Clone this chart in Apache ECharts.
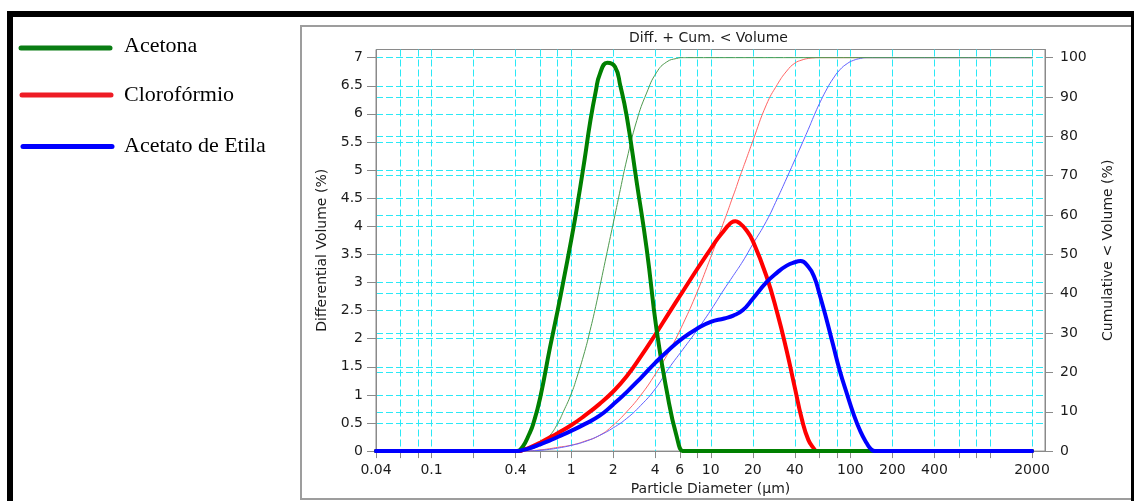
<!DOCTYPE html>
<html>
<head>
<meta charset="utf-8">
<script src="https://cdn.jsdelivr.net/npm/echarts@6/dist/echarts.min.js"></script>
<style>
  html, body { margin: 0; padding: 0; background: #ffffff; }
  #chart { width: 1134px; height: 501px; }
</style>
</head>
<body>
<div id="chart"></div>
<script>
// Particle size distribution by laser diffraction: differential volume (%) and
// cumulative volume (%) against particle diameter (µm) for three solvents.

const seriesNames = ['Acetona', 'Clorofórmio', 'Acetato de Etila'];

// Acetona
const acetonaDiam = [0.04, 0.375, 0.41, 0.45, 0.5, 0.536, 0.6, 0.705, 0.8, 0.879, 1.0, 1.096, 1.25, 1.365, 1.5, 1.61, 1.815, 2.06, 2.25, 2.5, 2.95, 3.47, 4.1, 4.83, 5.7, 6.36, 6.8, 2000];
const acetonaDiff = [0, 0, 0, 0.08, 0.3, 0.49, 0.95, 1.84, 2.5, 3.02, 3.75, 4.31, 5.2, 5.84, 6.4, 6.72, 6.91, 6.84, 6.5, 5.96, 4.78, 3.61, 2.14, 1.08, 0.26, 0, 0, 0];
const acetonaCum  = [0, 0, 0, 0.1, 0.4, 0.7, 1.6, 4, 7, 10, 14.5, 18.6, 25.3, 30.6, 36.8, 42, 50.8, 60, 66.5, 74, 84, 91, 96.3, 98.9, 99.8, 100, 100, 100];

// Clorofórmio
const cloroDiam = [0.04, 0.4, 0.43, 0.45, 0.5, 0.6, 0.7, 0.8, 1.0, 1.25, 1.6, 2.0, 2.5, 3.15, 4.0, 5.0, 6.3, 8.0, 10, 11.2, 12.5, 13.3, 14.1, 15, 16, 18, 20, 25, 30, 35, 40, 45, 50, 55, 57.5, 62, 2000];
const cloroDiff = [0, 0, 0, 0.02, 0.06, 0.15, 0.24, 0.32, 0.46, 0.63, 0.84, 1.06, 1.33, 1.68, 2.07, 2.45, 2.84, 3.24, 3.6, 3.78, 3.93, 4.01, 4.07, 4.09, 4.06, 3.93, 3.74, 3.12, 2.45, 1.78, 1.13, 0.56, 0.2, 0.04, 0, 0, 0];
const cloroCum  = [0, 0, 0, 0, 0.06, 0.3, 0.6, 0.95, 1.5, 2.5, 4.0, 6.6, 10, 14.2, 19.5, 25.2, 32.2, 40.5, 49.3, 54, 58.6, 61.2, 63.8, 66.4, 69.3, 74.3, 78.8, 88, 93.2, 96.6, 98.6, 99.4, 99.8, 99.95, 100, 100, 100];

// Acetato de Etila
const etilaDiam = [0.04, 0.38, 0.41, 0.45, 0.5, 0.6, 0.7, 0.8, 1.0, 1.25, 1.6, 2.0, 2.5, 3.15, 4.0, 5.0, 6.3, 8.0, 10, 12.5, 14.5, 17, 20, 25, 30, 35, 40, 44, 50, 55, 60, 68, 75, 84, 95, 105, 118, 131, 140, 150, 160, 2000];
const etilaDiff = [0, 0, 0, 0.02, 0.05, 0.12, 0.185, 0.25, 0.36, 0.48, 0.63, 0.83, 1.05, 1.3, 1.57, 1.8, 2.01, 2.18, 2.3, 2.36, 2.41, 2.51, 2.71, 3.0, 3.18, 3.3, 3.36, 3.38, 3.28, 3.1, 2.8, 2.31, 1.9, 1.43, 1.0, 0.67, 0.35, 0.14, 0.04, 0, 0, 0];
const etilaCum  = [0, 0, 0, 0, 0.05, 0.2, 0.45, 0.75, 1.45, 2.4, 4.0, 5.9, 8.3, 11.6, 15.8, 21, 25.8, 30.8, 35.8, 41.2, 44.6, 48.3, 52.6, 58.4, 64.2, 69.4, 74, 77.3, 81.8, 85.3, 88.3, 92.1, 94.6, 96.9, 98.5, 99.3, 99.8, 100, 100, 100, 100, 100];

// Axis ticks
const xTickDiam  = [0.04, 0.06, 0.08, 0.1, 0.2, 0.4, 0.6, 0.8, 1, 2, 4, 6, 8, 10, 20, 40, 60, 80, 100, 200, 400, 600, 800, 1000, 2000];
const xLabelDiam = [0.04, 0.1, 0.4, 1, 2, 4, 6, 10, 20, 40, 100, 200, 400, 2000];
const diffTicks  = [0, 0.5, 1, 1.5, 2, 2.5, 3, 3.5, 4, 4.5, 5, 5.5, 6, 6.5, 7];
const cumTicks   = [0, 10, 20, 30, 40, 50, 60, 70, 80, 90, 100];

// Axis extents (the frame reaches a little past the last ticks)
const diamRange = [0.04, 2478];
const diffTop = 7.145;
const cumTop = diffTop * 100 / 7;

const lg = Math.log10;
const pairs = (d, v) => d.map((x, i) => [lg(x), v[i]]);
const fmtDiam = v => String(parseFloat(Math.pow(10, v).toPrecision(3)));

const FONT = 'DejaVu Sans';
const GRID_LINE = { color: '#2be9f6', type: [7, 3], width: 1 };
const AXIS_GRAY = '#8a8a8a';
const labelStyle = { color: '#1c1c1c', fontSize: 14, fontFamily: FONT };
const nameStyle = { color: '#1c1c1c', fontSize: 14, fontFamily: FONT };

const colors = ['#008000', '#ff0000', '#0000ff'];
const cumColors = ['#4f9a4f', '#ff6464', '#6060ff'];

function curve(name, d, v, color, width, yIdx) {
  return {
    type: 'line',
    name: name,
    data: pairs(d, v),
    xAxisIndex: 0,
    yAxisIndex: yIdx,
    symbol: 'none',
    showSymbol: false,
    smooth: 0.5,
    silent: true,
    lineStyle: { color: color, width: width, cap: 'round', join: 'round' },
    itemStyle: { color: color }
  };
}

const chart = echarts.init(document.getElementById('chart'), null, { renderer: 'canvas' });

chart.setOption({
  animation: false,
  backgroundColor: '#ffffff',
  grid: {
    left: 376, top: 49.5, right: 89, bottom: 46,
    show: true, borderColor: AXIS_GRAY, borderWidth: 1, backgroundColor: 'transparent'
  },
  xAxis: {
    type: 'value',
    min: lg(diamRange[0]),
    max: lg(diamRange[1]),
    axisLine: { show: true, onZero: false, lineStyle: { color: AXIS_GRAY } },
    axisTick: { show: true, customValues: xTickDiam.map(lg), length: 7, lineStyle: { color: AXIS_GRAY } },
    axisLabel: Object.assign({ customValues: xLabelDiam.map(lg), formatter: fmtDiam, margin: 12 }, labelStyle),
    splitLine: { show: true, lineStyle: GRID_LINE },
    name: 'Particle Diameter (µm)',
    nameLocation: 'middle',
    nameGap: 29,
    nameTextStyle: nameStyle
  },
  yAxis: [
    {
      type: 'value',
      position: 'left',
      min: 0,
      max: diffTop,
      axisLine: { show: true, onZero: false, lineStyle: { color: AXIS_GRAY } },
      axisTick: { show: true, customValues: diffTicks, length: 9, lineStyle: { color: AXIS_GRAY } },
      axisLabel: Object.assign({ customValues: diffTicks, margin: 13 }, labelStyle),
      splitLine: { show: true, lineStyle: GRID_LINE },
      name: 'Differential Volume (%)',
      nameLocation: 'middle',
      nameRotate: 90,
      nameGap: 46,
      nameTextStyle: nameStyle
    },
    {
      type: 'value',
      position: 'right',
      min: 0,
      max: cumTop,
      axisLine: { show: true, onZero: false, lineStyle: { color: AXIS_GRAY } },
      axisTick: { show: true, customValues: cumTicks, length: 8, lineStyle: { color: AXIS_GRAY } },
      axisLabel: Object.assign({ customValues: cumTicks, margin: 15 }, labelStyle),
      splitLine: { show: true, lineStyle: GRID_LINE },
      name: 'Cumulative < Volume (%)',
      nameLocation: 'middle',
      nameRotate: 90,
      nameGap: 56,
      nameTextStyle: nameStyle
    }
  ],
  series: [
    curve(seriesNames[1] + ' (cum.)', cloroDiam, cloroCum, cumColors[1], 1, 1),
    curve(seriesNames[2] + ' (cum.)', etilaDiam, etilaCum, cumColors[2], 1, 1),
    curve(seriesNames[0] + ' (cum.)', acetonaDiam, acetonaCum, cumColors[0], 1, 1),
    curve(seriesNames[1], cloroDiam, cloroDiff, colors[1], 4, 0),
    curve(seriesNames[0], acetonaDiam, acetonaDiff, colors[0], 4, 0),
    curve(seriesNames[2], etilaDiam, etilaDiff, colors[2], 4, 0)
  ],
  graphic: [
    // outer panel
    { type: 'rect', z: -10, silent: true, shape: { x: 301, y: 26, width: 845, height: 473 },
      style: { fill: 'none', stroke: '#9d9d9d', lineWidth: 2 } },
    // black page frame
    { type: 'rect', silent: true, shape: { x: 7, y: 11, width: 1127, height: 6 }, style: { fill: '#000000' } },
    { type: 'rect', silent: true, shape: { x: 7, y: 11, width: 6, height: 490 }, style: { fill: '#000000' } },
    { type: 'rect', silent: true, shape: { x: 1131, y: 11, width: 3, height: 490 }, style: { fill: '#000000' } },
    // chart title
    { type: 'text', silent: true, x: 708.5, y: 38,
      style: { text: 'Diff. + Cum. < Volume', font: '14px "DejaVu Sans"', fill: '#1c1c1c',
               align: 'center', verticalAlign: 'middle', textAlign: 'center', textVerticalAlign: 'middle' } },
    // legend
    { type: 'line', silent: true, shape: { x1: 21, y1: 48, x2: 110, y2: 48 },
      style: { stroke: '#0a7d14', lineWidth: 5, lineCap: 'round' } },
    { type: 'line', silent: true, shape: { x1: 22, y1: 95, x2: 111, y2: 95 },
      style: { stroke: '#ee1c25', lineWidth: 5, lineCap: 'round' } },
    { type: 'line', silent: true, shape: { x1: 23, y1: 146.5, x2: 112, y2: 146.5 },
      style: { stroke: '#0000ff', lineWidth: 5, lineCap: 'round' } },
    { type: 'text', silent: true, x: 124, y: 46,
      style: { text: seriesNames[0], font: '22px "Liberation Serif"', fill: '#000000',
               align: 'left', verticalAlign: 'middle', textAlign: 'left', textVerticalAlign: 'middle' } },
    { type: 'text', silent: true, x: 124, y: 95.5,
      style: { text: seriesNames[1], font: '22px "Liberation Serif"', fill: '#000000',
               align: 'left', verticalAlign: 'middle', textAlign: 'left', textVerticalAlign: 'middle' } },
    { type: 'text', silent: true, x: 124, y: 146,
      style: { text: seriesNames[2], font: '22px "Liberation Serif"', fill: '#000000',
               align: 'left', verticalAlign: 'middle', textAlign: 'left', textVerticalAlign: 'middle' } }
  ]
});
</script>
</body>
</html>
